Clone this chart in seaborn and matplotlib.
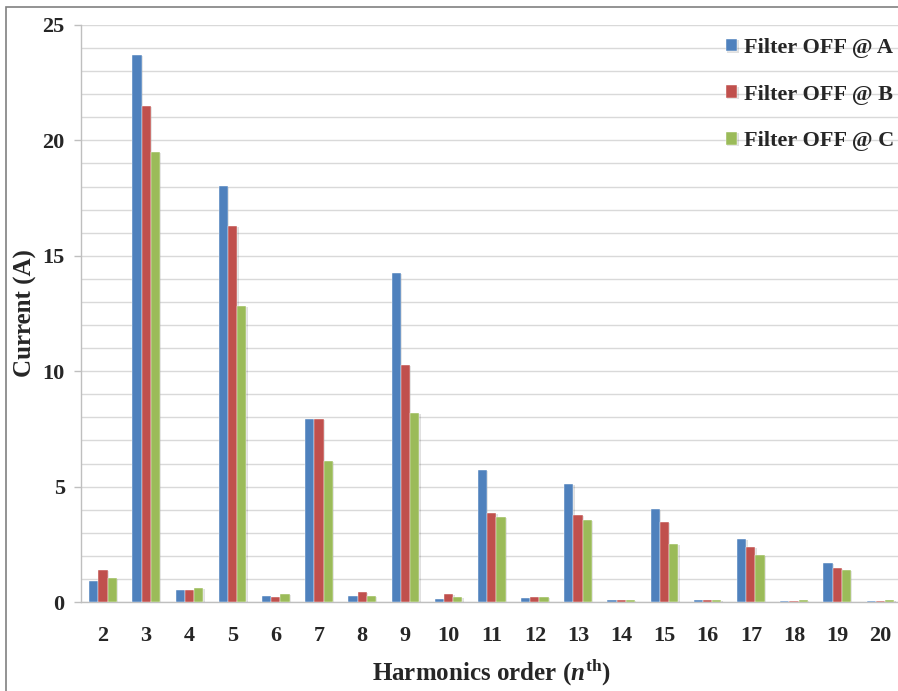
import matplotlib
matplotlib.use("Agg")
import matplotlib.pyplot as plt
import matplotlib.patheffects as pe
from matplotlib.patches import Rectangle
import seaborn as sns
import pandas as pd

orders = [str(i) for i in range(2, 21)]
series_names = ["Filter OFF @ A", "Filter OFF @ B", "Filter OFF @ C"]
current_a = [0.90, 23.70, 0.53, 18.02, 0.27, 7.93, 0.27, 14.25, 0.14, 5.72,
             0.17, 5.11, 0.07, 4.03, 0.09, 2.75, 0.04, 1.68, 0.06]
current_b = [1.40, 21.50, 0.53, 16.30, 0.23, 7.93, 0.45, 10.27, 0.36, 3.86,
             0.20, 3.77, 0.10, 3.45, 0.10, 2.40, 0.04, 1.49, 0.05]
current_c = [1.04, 19.50, 0.59, 12.83, 0.36, 6.10, 0.27, 8.19, 0.20, 3.68,
             0.20, 3.55, 0.10, 2.50, 0.10, 2.02, 0.09, 1.39, 0.09]
colors = ["#4F81BD", "#C0504D", "#9BBB59"]

df = pd.DataFrame({
    "order": orders * 3,
    "series": [series_names[0]] * 19 + [series_names[1]] * 19 + [series_names[2]] * 19,
    "current": current_a + current_b + current_c,
})

sns.set_theme(style="white")
plt.rcParams["font.family"] = ["Liberation Serif", "DejaVu Serif"]
plt.rcParams["font.weight"] = "bold"
plt.rcParams["mathtext.fontset"] = "custom"
plt.rcParams["mathtext.rm"] = "Liberation Serif:bold"
plt.rcParams["mathtext.bf"] = "Liberation Serif:bold"
plt.rcParams["mathtext.it"] = "Liberation Serif:italic:bold"

W, H = 898, 691
fig = plt.figure(figsize=(W / 100, H / 100), dpi=100)
ax = fig.add_axes([81.4 / W, 89 / H, 820.6 / W, 577 / H])

sns.barplot(data=df, x="order", y="current", hue="series", order=orders,
            hue_order=series_names, palette=colors, width=0.64,
            edgecolor="white", linewidth=0.3, saturation=1, ax=ax, zorder=3)

for p in ax.patches:
    p.set_path_effects([pe.SimplePatchShadow(offset=(1.0, -0.8), alpha=0.12, shadow_rgbFace="#000000"), pe.Normal()])

ax.set_ylim(0, 25)
ax.set_xlim(-0.5, 18.5)
ax.set_yticks([0, 5, 10, 15, 20, 25])
ax.set_yticks(range(0, 26), minor=True)
ax.yaxis.grid(True, which="both", color="#d9d9d9", linewidth=1.0, zorder=0)
ax.set_axisbelow(True)
for s in ["top", "right"]:
    ax.spines[s].set_visible(False)
ax.spines["left"].set_color("#bfbfbf")
ax.spines["bottom"].set_color("#bfbfbf")
ax.spines["left"].set_linewidth(1.0)
ax.spines["bottom"].set_linewidth(1.0)

ax.tick_params(axis="y", which="major", length=5, width=1.0, color="#bfbfbf",
               labelsize=16, pad=7, left=True)
ax.tick_params(axis="y", which="minor", length=0)
ax.tick_params(axis="x", length=0, labelsize=16, pad=17)
for lbl in ax.get_xticklabels() + ax.get_yticklabels():
    lbl.set_fontweight("bold")

ax.set_ylabel("Current (A)", fontsize=18, fontweight="bold", labelpad=4)
ax.set_xlabel(r"Harmonics order ($n^{\rm th}$)", fontsize=18, fontweight="bold", labelpad=8)

handles, labels = ax.get_legend_handles_labels()
ax.legend(handles, labels, loc="upper left", bbox_to_anchor=(726 / W, 1 - 38 / H),
          bbox_transform=fig.transFigure, frameon=False,
          prop={"weight": "bold", "size": 16}, handlelength=0.5, handleheight=0.5,
          handletextpad=0.3, labelspacing=1.2, borderpad=0, borderaxespad=0)

fig.add_artist(Rectangle((6 / W, -0.1), 1.1, 1 - 7 / H + 0.1, transform=fig.transFigure,
                         fill=False, edgecolor="#808080", linewidth=1.2))

fig.savefig("out.png", dpi=100, facecolor="white")
